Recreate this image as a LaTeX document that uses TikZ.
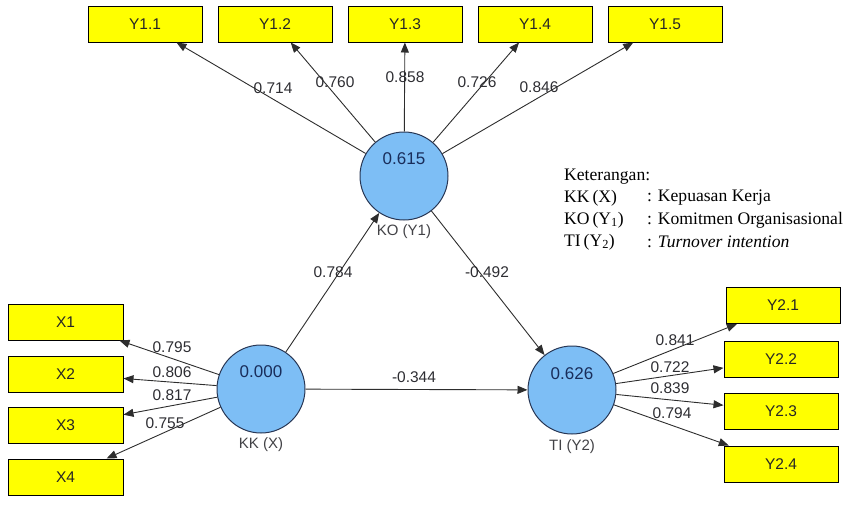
\documentclass[tikz,border=0pt]{standalone}
\usepackage{fontspec}
\setmainfont{Liberation Serif}
\newfontfamily\arialf{Liberation Sans}
\usetikzlibrary{arrows.meta}
\definecolor{boxyellow}{RGB}{255,255,0}
\definecolor{lvfill}{RGB}{125,190,245}
\definecolor{lvborder}{RGB}{40,55,85}
\definecolor{valtext}{RGB}{25,45,90}
\definecolor{lbltext}{RGB}{45,45,50}
\definecolor{edgecol}{RGB}{45,45,45}
\tikzset{
  ind/.style={draw=black, line width=1pt, fill=boxyellow, minimum width=114pt, minimum height=36pt, inner sep=0pt, font=\arialf\fontsize{15.5}{18}\selectfont, text=black!85},
  lv/.style={circle, draw=lvborder, line width=1pt, fill=lvfill, minimum size=88pt, inner sep=0pt},
  lvval/.style={font=\arialf\fontsize{17}{19}\selectfont, text=valtext, inner sep=0pt},
  lvname/.style={font=\arialf\fontsize{15}{18}\selectfont, text=lbltext!90, inner sep=0pt},
  wt/.style={font=\arialf\fontsize{15.5}{18}\selectfont, text=lbltext, inner sep=0pt},
  arr/.style={draw=edgecol, line width=0.9pt, -{Triangle[length=10pt,width=8pt]}},
  leg/.style={font=\fontsize{17.6}{21}\selectfont, text=black, inner sep=0pt, anchor=west}
}
\begin{document}
\begin{tikzpicture}[x=1pt,y=-1pt]
\useasboundingbox (0,0) rectangle (849,507);
% indicator boxes
\node[ind] (y11) at (145,24) {Y1.1};
\node[ind] (y12) at (275,24) {Y1.2};
\node[ind] (y13) at (405,24) {Y1.3};
\node[ind] (y14) at (535,24) {Y1.4};
\node[ind] (y15) at (665,24) {Y1.5};
\node[ind, minimum width=115pt] (x1) at (65.5,322) {X1};
\node[ind, minimum width=115pt] (x2) at (65.5,374) {X2};
\node[ind, minimum width=115pt] (x3) at (65.5,425.5) {X3};
\node[ind, minimum width=115pt] (x4) at (65.5,477) {X4};
\node[ind] (y21) at (783,305.5) {Y2.1};
\node[ind] (y22) at (781,359.5) {Y2.2};
\node[ind] (y23) at (781,411) {Y2.3};
\node[ind] (y24) at (781,464) {Y2.4};
% latent variables
\node[lv] (ko) at (404,176) {};
\node[lv] (kk) at (261,389) {};
\node[lv] (ti) at (572,390) {};
\node[lvval] (kov) at (404,159) {0.615};
\node[lvval] (kkv) at (261,372) {0.000};
\node[lvval] (tiv) at (572,374) {0.626};
\node[lvname] (kon) at (404,232) {KO (Y1)};
\node[lvname] (kkn) at (261,445) {KK (X)};
\node[lvname] (tin) at (572,447) {TI (Y2)};
% outer loadings
\draw[arr] (ko) -- (y11);
\draw[arr] (ko) -- (y12);
\draw[arr] (ko) -- (y13);
\draw[arr] (ko) -- (y14);
\draw[arr] (ko) -- (y15);
\draw[arr] (kk) -- (x1);
\draw[arr] (kk) -- (x2);
\draw[arr] (kk) -- (x3);
\draw[arr] (kk) -- (x4);
\draw[arr] (ti) -- (y21);
\draw[arr] (ti) -- (y22);
\draw[arr] (ti) -- (y23);
\draw[arr] (ti) -- (y24);
% structural paths
\draw[arr] (kk) -- (ko);
\draw[arr] (ko) -- (ti);
\draw[arr] (kk) -- (ti);
% weights
\node[wt] (w11) at (273,88) {0.714};
\node[wt] (w12) at (335,82) {0.760};
\node[wt] (w13) at (405,77) {0.858};
\node[wt] (w14) at (477,82) {0.726};
\node[wt] (w15) at (539,87) {0.846};
\node[wt] (wx1) at (172,347) {0.795};
\node[wt] (wx2) at (172,372) {0.806};
\node[wt] (wx3) at (172,395) {0.817};
\node[wt] (wx4) at (165,423) {0.755};
\node[wt] (w21) at (675,340) {0.841};
\node[wt] (w22) at (670,367) {0.722};
\node[wt] (w23) at (670,388) {0.839};
\node[wt] (w24) at (672,413) {0.794};
\node[wt] (pkkko) at (333,272) {0.784};
\node[wt] (pkoti) at (487,272) {-0.492};
\node[wt] (pkkti) at (414,377) {-0.344};
% legend
\node[leg] (lg0) at (564,177) {Keterangan:};
\node[leg] (lg1) at (564,198) {KK\,(X)};
\node[leg] (lg2) at (564,220) {KO\,(Y\textsubscript{1})};
\node[leg] (lg3) at (564,242) {TI\,(Y\textsubscript{2})};
\node[leg] (lg1b) at (647,198) {: Kepuasan Kerja};
\node[leg] (lg2b) at (647,220) {: Komitmen Organisasional};
\node[leg] (lg3b) at (647,242) {: \textit{Turnover intention}};
\end{tikzpicture}
\end{document}
